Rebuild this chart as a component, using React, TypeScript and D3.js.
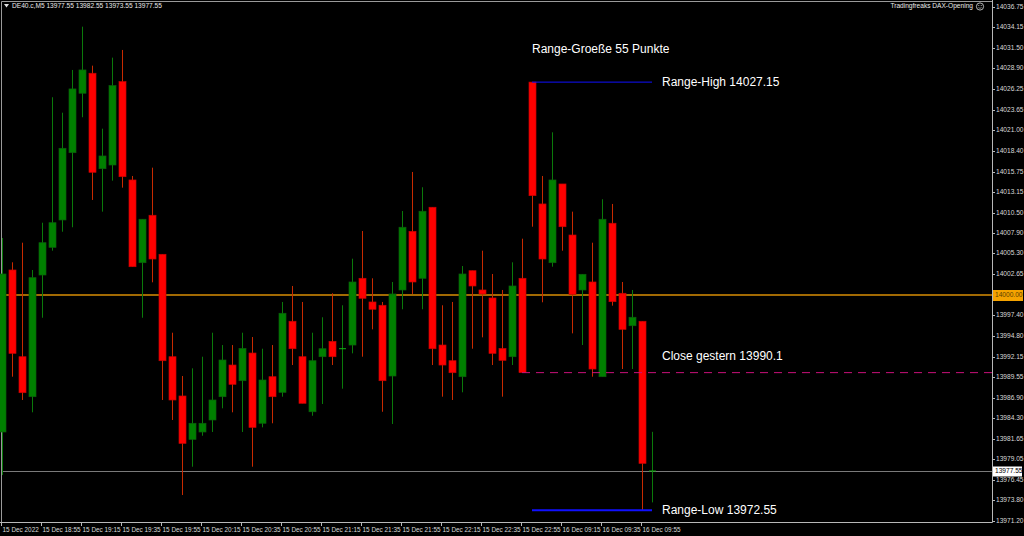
import React from "react";
import * as d3 from "d3";

// ---- Data (DE40.c, M5) ----
const timeLabels = [
  "15 Dec 2022", "15 Dec 18:55", "15 Dec 19:15", "15 Dec 19:35", "15 Dec 19:55",
  "15 Dec 20:15", "15 Dec 20:35", "15 Dec 20:55", "15 Dec 21:15", "15 Dec 21:35",
  "15 Dec 21:55", "15 Dec 22:15", "15 Dec 22:35", "15 Dec 22:55", "16 Dec 09:15",
  "16 Dec 09:35", "16 Dec 09:55",
];

const opens = [
  13982.53, 14003.19, 13992.13, 13987.03, 14002.55, 14006.08, 14009.57, 14018.15, 14025.73, 14028.28,
  14016.11, 14016.58, 14027.21, 14014.67, 14004.12, 14010.17, 14005.19, 13992.13, 13987.12, 13981.59,
  13982.53, 13984.06, 13987.03, 13991.07, 13989.07, 13992.6, 13983.64, 13989.58, 13987.59, 13996.65,
  13992.13, 13985.11, 13992.13, 13994.09, 13993.15, 13993.62, 14002.13, 13999.11, 13998.69, 13989.67,
  14000.64, 14008.12, 14002.13, 14011.19, 13993.62, 13991.62, 13989.58, 14003.1, 14000.64, 13999.62,
  13993.18, 13992.13, 14002.13, 14027.15, 14011.61, 14004.12, 14014.16, 14007.65, 14000.64, 14001.66,
  13989.58, 14009.15, 14000.22, 13996.08, 13996.65, 13977.55,
];
const highs = [
  14007.27, 14004.17, 14006.67, 14003.19, 14009.22, 14025.22, 14023.25, 14028.7, 14034.22, 14029.25,
  14021.21, 14030.27, 14031.25, 14015.18, 14009.66, 14016.24, 14005.19, 13995.19, 13989.67, 13990.65,
  13992.13, 13995.19, 13993.62, 13993.62, 13995.19, 13994.64, 13993.15, 13993.62, 13999.11, 14001.15,
  13999.11, 13995.19, 13997.16, 14000.22, 13998.69, 14004.63, 14008.16, 14002.13, 13999.11, 14001.66,
  14010.71, 14015.69, 14013.74, 14011.19, 13998.69, 13999.11, 14003.7, 14003.1, 14005.65, 14002.68,
  14000.64, 14004.17, 14007.18, 14027.15, 14015.18, 14020.75, 14014.16, 14010.63, 14002.64, 14006.67,
  14012.21, 14011.61, 14001.66, 14000.64, 13996.65, 13982.55,
];
const lows = [
  13977.04, 13989.58, 13986.61, 13985.04, 13997.1, 14005.65, 14008.07, 14008.64, 14022.67, 14012.12,
  14010.63, 14014.58, 14013.69, 14003.61, 13997.1, 14001.62, 13986.61, 13984.06, 13974.49, 13978.1,
  13982.05, 13982.53, 13985.55, 13985.04, 13982.53, 13978.1, 13983.12, 13983.64, 13987.03, 13991.07,
  13986.19, 13984.6, 13986.1, 13991.07, 13988.05, 13992.56, 13992.13, 13995.62, 13985.11, 13983.55,
  13998.18, 14000.13, 13998.18, 13991.07, 13987.03, 13986.61, 13987.59, 13993.15, 13994.6, 13991.07,
  13987.03, 13991.07, 13990.1, 14008.71, 13999.07, 14003.61, 14005.65, 13995.11, 13993.62, 13989.58,
  13989.58, 13998.64, 13990.56, 13990.56, 13972.55, 13973.55,
];
const closes = [
  14002.68, 13992.56, 13987.54, 14002.21, 14006.67, 14009.22, 14018.71, 14026.28, 14028.7, 14015.65,
  14017.73, 14026.7, 14015.09, 14003.61, 14009.66, 14004.59, 13991.62, 13986.61, 13981.08, 13983.64,
  13983.64, 13986.61, 13991.71, 13988.61, 13993.18, 13983.12, 13989.16, 13987.03, 13997.67, 13993.15,
  13986.19, 13991.62, 13993.15, 13992.13, 13993.15, 14001.66, 13999.58, 13998.18, 13989.07, 14000.13,
  14008.64, 14001.66, 14010.68, 13993.15, 13991.07, 13990.09, 14002.68, 14001.15, 14000.13, 13992.56,
  13991.67, 14001.15, 13990.1, 14012.67, 14004.59, 14014.67, 14008.71, 14000.09, 14002.64, 13990.56,
  14009.66, 13999.15, 13995.62, 13997.16, 13978.53, 13977.55,
];

const priceTicks = [
  14036.75, 14034.15, 14031.5, 14028.9, 14026.25, 14023.65, 14021.0, 14018.4, 14015.75, 14013.15,
  14010.5, 14007.9, 14005.3, 14002.65, 14000.0, 13997.4, 13994.8, 13992.15, 13989.55, 13986.9,
  13984.3, 13981.65, 13979.05, 13976.45, 13973.8, 13971.2,
];

const symbolTitle = "DE40.c,M5  13977.55 13982.55 13973.55 13977.55";
const indicatorName = "Tradingfreaks DAX-Opening";
const levelPrice = 14000.0;
const bidPrice = 13977.55;
const rangeHigh = 14027.15;
const rangeLow = 13972.55;
const closeYesterday = 13990.1;
const rangeSize = 55;
const rangeStartIndex = 53;
const yesterdayCloseIndex = 52;
const labelEvery = 4;

const W = 1024;
const H = 536;
const axisX = 992;
const axisY = 522;

export default function App() {
  const n = opens.length;
  const x = d3.scaleLinear().domain([0, n - 1]).range([2, 2 + 10 * (n - 1)]);
  const y = d3.scaleLinear().domain([13971.05, 14037.24]).range([axisY, 3]);
  const bodyW = 7;
  const font = "'Liberation Sans', Arial, sans-serif";

  const candles = d3.range(n).map((i) => {
    const o = opens[i], c = closes[i], h = highs[i], l = lows[i];
    const bull = c >= o;
    const cx = Math.round(x(i)) + 0.5;
    const top = y(Math.max(o, c));
    const bot = y(Math.min(o, c));
    return { i, bull, cx, top, bot, yh: y(h), yl: y(l), doji: Math.abs(o - c) < 0.01 };
  });

  const fmt = d3.format(".2f");
  const textX = x(rangeStartIndex) + 130;
  const annSize = 12;

  return (
    <svg
      width={W}
      height={H}
      style={{ position: "absolute", left: 0, top: 0, display: "block" }}
      fontFamily={font}
    >
      <rect x={0} y={0} width={W} height={H} fill="#000" />
      {/* frame */}
      <line x1={1.5} y1={1.5} x2={axisX} y2={1.5} stroke="#9a9a9a" />
      <line x1={1.5} y1={1.5} x2={1.5} y2={axisY} stroke="#9a9a9a" />
      <line x1={axisX + 0.5} y1={0} x2={axisX + 0.5} y2={axisY + 0.5} stroke="#b8b8b8" />
      <line x1={0} y1={axisY + 0.5} x2={axisX + 0.5} y2={axisY + 0.5} stroke="#b8b8b8" />

      {/* level line 14000 */}
      <line x1={2} x2={axisX} y1={y(levelPrice)} y2={y(levelPrice)} stroke="#d98e04" strokeWidth={1.6} />
      {/* bid line */}
      <line x1={2} x2={axisX} y1={Math.round(y(bidPrice)) + 0.5} y2={Math.round(y(bidPrice)) + 0.5} stroke="#7a7a7a" strokeWidth={1} />

      {/* candles */}
      {candles.map((c) => (
        <g key={c.i}>
          <line
            x1={c.cx}
            x2={c.cx}
            y1={c.yh}
            y2={c.yl}
            stroke={c.bull ? "#0a7a0a" : "#c82a00"}
            strokeWidth={1}
          />
          {c.doji ? (
            <line x1={c.cx - 3.5} x2={c.cx + 3.5} y1={c.top} y2={c.top} stroke="#12b012" strokeWidth={1} />
          ) : (
            <rect
              x={c.cx - bodyW / 2}
              y={c.top}
              width={bodyW}
              height={Math.max(1, c.bot - c.top)}
              fill={c.bull ? "#008000" : "#ff0000"}
              stroke={c.bull ? "#0b5e0b" : "#c80000"}
              strokeWidth={0.7}
            />
          )}
        </g>
      ))}

      {/* close yesterday dashed */}
      <line
        x1={x(yesterdayCloseIndex)}
        x2={axisX}
        y1={y(closeYesterday)}
        y2={y(closeYesterday)}
        stroke="#c8107a"
        strokeWidth={1}
        strokeDasharray="8,6"
      />
      {/* range lines */}
      <line x1={x(rangeStartIndex)} x2={x(n - 1)} y1={y(rangeHigh)} y2={y(rangeHigh)} stroke="#1010ff" strokeWidth={1} />
      <line x1={x(rangeStartIndex)} x2={x(n - 1)} y1={y(rangeLow)} y2={y(rangeLow)} stroke="#1010ff" strokeWidth={2} />

      {/* annotation texts */}
      <text x={x(rangeStartIndex)} y={y(rangeHigh) - 32} fill="#fff" fontSize={annSize} dominantBaseline="middle">
        {`Range-Groeße ${rangeSize} Punkte`}
      </text>
      <text x={textX} y={y(rangeHigh) + 1} fill="#fff" fontSize={annSize} dominantBaseline="middle">
        {`Range-High ${fmt(rangeHigh)}`}
      </text>
      <text x={textX} y={y(closeYesterday) - 16} fill="#fff" fontSize={annSize} dominantBaseline="middle">
        {`Close gestern ${closeYesterday}`}
      </text>
      <text x={textX} y={y(rangeLow) + 1} fill="#fff" fontSize={annSize} dominantBaseline="middle">
        {`Range-Low ${fmt(rangeLow)}`}
      </text>

      {/* price axis */}
      {priceTicks.map((p) => {
        const yy = Math.round(y(p)) + 0.5;
        const isLevel = Math.abs(p - levelPrice) < 0.001;
        return (
          <g key={p}>
            <line x1={axisX} x2={axisX + 3} y1={yy} y2={yy} stroke="#b8b8b8" />
            {isLevel ? (
              <>
                <rect x={axisX + 1} y={yy - 5.5} width={30} height={11} fill="#f5a300" />
                <text x={axisX + 3} y={yy} fill="#5a4000" fontSize={6.6} dominantBaseline="middle">
                  {fmt(p)}
                </text>
              </>
            ) : (
              <text x={axisX + 4} y={yy} fill="#d8d8d8" fontSize={6.6} dominantBaseline="middle">
                {fmt(p)}
              </text>
            )}
          </g>
        );
      })}
      {/* bid label */}
      <rect x={axisX + 1} y={Math.round(y(bidPrice)) - 4.5} width={29} height={10} fill="#fff" />
      <text x={axisX + 3} y={Math.round(y(bidPrice)) + 0.5} fill="#000" fontSize={6.6} dominantBaseline="middle">
        {fmt(bidPrice)}
      </text>

      {/* time axis */}
      {timeLabels.map((t, k) => {
        const xx = Math.round(x(k * labelEvery)) - 0.5;
        return (
          <g key={t}>
            <line x1={xx} x2={xx} y1={axisY} y2={axisY + 4} stroke="#b8b8b8" />
            <text x={xx + 1} y={axisY + 8} fill="#d8d8d8" fontSize={6.4} dominantBaseline="middle">
              {t}
            </text>
          </g>
        );
      })}

      {/* title */}
      <path d="M4,4 L9,4 L6.5,7.5 Z" fill="#e0e0e0" />
      <text x={12} y={6} fill="#e8e8e8" fontSize={6.6} dominantBaseline="middle">
        {symbolTitle}
      </text>
      <text x={973} y={6.5} fill="#e8e8e8" fontSize={6.6} textAnchor="end" dominantBaseline="middle">
        {indicatorName}
      </text>
      <circle cx={980} cy={6.5} r={3.6} fill="none" stroke="#e0e0e0" strokeWidth={0.8} />
      <circle cx={978.8} cy={5.6} r={0.5} fill="#e0e0e0" />
      <circle cx={981.2} cy={5.6} r={0.5} fill="#e0e0e0" />
      <path d="M978.4,7.6 Q980,9 981.6,7.6" fill="none" stroke="#e0e0e0" strokeWidth={0.6} />
    </svg>
  );
}
